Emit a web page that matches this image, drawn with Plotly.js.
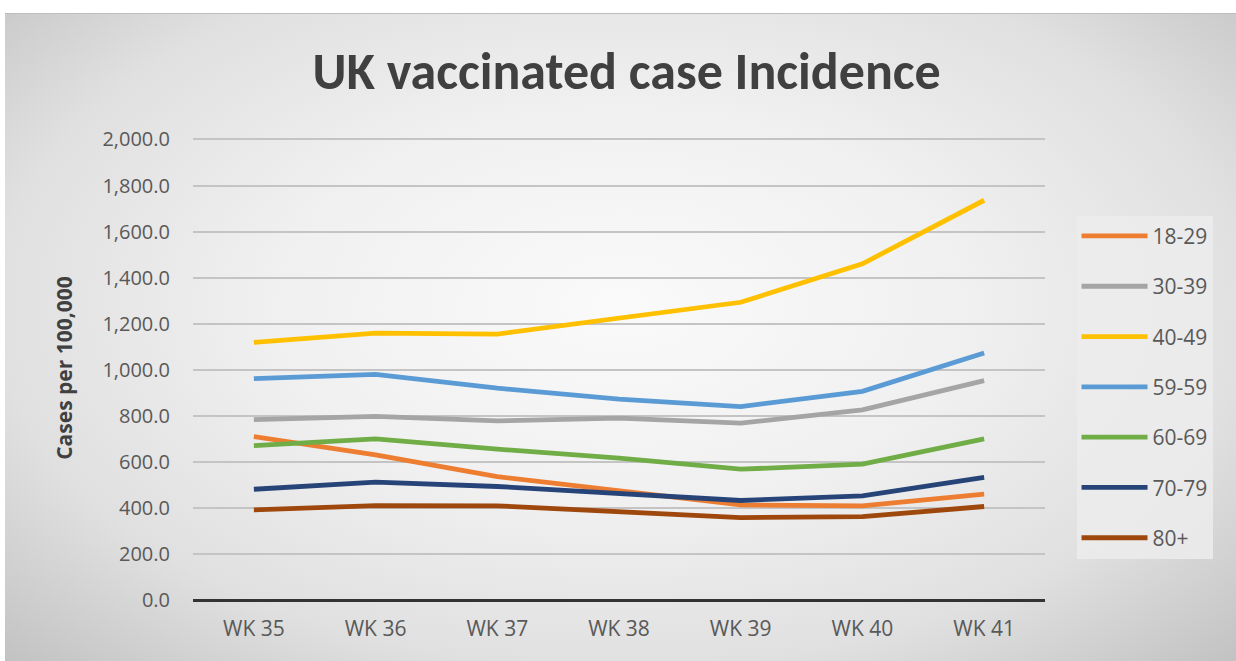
<!DOCTYPE html>
<html>
<head>
<meta charset="utf-8">
<script src="https://cdn.plot.ly/plotly-3.0.1.min.js"></script>
<style>
  html, body { margin: 0; padding: 0; background: #ffffff; }
  #bg { position: absolute; left: 5px; top: 13px; width: 1231px; height: 648px;
        border-top: 1px solid #bdbdbd;
        background: radial-gradient(ellipse at 50% 45%, #fafafa 0%, #f0f0f0 40%, #e0e0e0 72%, #c2c2c2 100%); }
  #chart { position: absolute; left: 0; top: 0; width: 1236px; height: 661px; }
</style>
</head>
<body>
<div id="bg"></div>
<div id="chart"></div>
<script>
const weeks = ["WK 35", "WK 36", "WK 37", "WK 38", "WK 39", "WK 40", "WK 41"];
const seriesNames = ["18-29", "30-39", "40-49", "59-59", "60-69", "70-79", "80+"];
const age18_29 = [710, 630, 536, 475, 413, 409, 460];
const age30_39 = [783, 797, 778, 790, 768, 826, 953];
const age40_49 = [1119, 1159, 1155, 1226, 1293, 1460, 1736];
const age59_59 = [961, 980, 920, 872, 840, 906, 1073];
const age60_69 = [670, 700, 655, 616, 568, 590, 700];
const age70_79 = [481, 512, 493, 464, 432, 452, 533];
const age80plus = [391, 410, 409, 384, 358, 362, 406];
const yTicks = [0, 200, 400, 600, 800, 1000, 1200, 1400, 1600, 1800, 2000];

const values = [age18_29, age30_39, age40_49, age59_59, age60_69, age70_79, age80plus];
const colors = ["#ED7D31", "#A5A5A5", "#FFC000", "#5B9BD5", "#70AD47", "#264478", "#9E480E"];

const TITLEFONT = "Carlito, Lato, sans-serif";
const FONT = "'Open Sans', Lato, sans-serif";

const traces = values.map((v, i) => ({
  type: "scatter",
  mode: "lines",
  x: weeks,
  y: v,
  name: seriesNames[i],
  legendgroup: "g" + i,
  line: { color: colors[i], width: 4.8 },
  hoverinfo: "x+y+name"
}));

const layout = {
  width: 1236,
  height: 661,
  paper_bgcolor: "rgba(0,0,0,0)",
  plot_bgcolor: "rgba(0,0,0,0)",
  margin: { l: 193, r: 191, t: 136, b: 61, pad: 0 },
  title: {
    text: "<b>UK vaccinated case Incidence</b>",
    font: { family: TITLEFONT, size: 52, color: "#404040" },
    x: 0.507, xanchor: "center",
    y: 0.893, yanchor: "middle"
  },
  xaxis: {
    type: "category",
    range: [-0.5, 6.5],
    showgrid: false,
    zeroline: false,
    showline: false,
    ticks: "",
    tickfont: { family: FONT, size: 21, color: "#595959" },
    ticklabelstandoff: 14
  },
  yaxis: {
    range: [0, 2015],
    tickvals: yTicks,
    tickformat: ",.1f",
    showgrid: true,
    gridcolor: "#c4c4c4",
    gridwidth: 2,
    zeroline: true,
    zerolinecolor: "#333333",
    zerolinewidth: 3,
    showline: false,
    ticks: "",
    tickfont: { family: FONT, size: 20, color: "#595959" },
    ticklabelstandoff: 22,
    title: {
      text: "<b>Cases per 100,000</b>",
      font: { family: FONT, size: 21, color: "#404040" },
      standoff: 24
    }
  },
  showlegend: true,
  legend: {
    x: 1.037, xanchor: "left",
    y: 0.828, yanchor: "top",
    bgcolor: "rgba(236,236,236,0.85)",
    borderwidth: 0,
    font: { family: FONT, size: 21, color: "#595959" },
    tracegroupgap: 20,
    traceorder: "grouped",
    itemwidth: 66
  }
};

Plotly.newPlot("chart", traces, layout, { displayModeBar: false, staticPlot: true });
</script>
</body>
</html>
